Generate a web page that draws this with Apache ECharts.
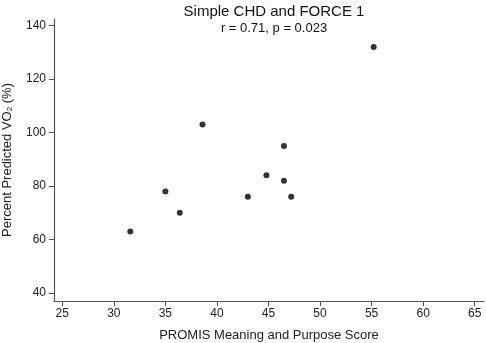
<!DOCTYPE html>
<html>
<head>
<meta charset="utf-8">
<script src="https://cdn.jsdelivr.net/npm/echarts@6/dist/echarts.min.js"></script>
<style>
  html, body { margin: 0; padding: 0; background: #fff; }
  #chart { width: 486px; height: 343px; }
</style>
</head>
<body>
<div id="chart"></div>
<script>
// PROMIS meaning & purpose score vs percent predicted VO2
const meaningScore = [31.6, 35.0, 36.4, 38.6, 43.0, 44.8, 46.5, 46.5, 47.2, 55.2];
const predictedVO2 = [63, 78, 70, 103, 76, 84, 95, 82, 76, 132];
const xTicks = [25, 30, 35, 40, 45, 50, 55, 60, 65];
const yTicks = [40, 60, 80, 100, 120, 140];

const points = meaningScore.map((x, i) => [x, predictedVO2[i]]);

const axisColor = '#555';
const textColor = '#222';
const font = 'Liberation Sans, Arial, sans-serif';

let myChart = echarts.init(document.getElementById('chart'));
myChart.setOption({
  animation: false,
  title: {
    text: 'Simple CHD and FORCE 1',
    subtext: 'r = 0.71, p = 0.023',
    left: 269,
    textAlign: 'center',
    top: -1,
    itemGap: 3,
    textStyle: { fontFamily: font, fontSize: 15, fontWeight: 'normal', color: '#111' },
    subtextStyle: { fontFamily: font, fontSize: 13, color: '#111' }
  },
  grid: { left: 54, right: 2, top: 19, bottom: 42, outerBoundsMode: 'none', containLabel: false },
  xAxis: {
    type: 'value',
    min: 24.2,
    max: 65.9,
    name: 'PROMIS Meaning and Purpose Score',
    nameLocation: 'middle',
    nameGap: 28,
    nameTextStyle: { fontFamily: font, fontSize: 13, color: textColor },
    splitLine: { show: false },
    axisLine: { lineStyle: { color: axisColor, width: 1.2 } },
    axisTick: { customValues: xTicks, length: 5, lineStyle: { color: axisColor } },
    axisLabel: { customValues: xTicks, fontFamily: font, fontSize: 12, color: textColor, margin: 7 }
  },
  yAxis: {
    type: 'value',
    min: 37,
    max: 142.5,
    name: '{a|Percent Predicted VO}{s|2}{a| (%)}',
    nameLocation: 'middle',
    nameRotate: 90,
    nameGap: 40,
    nameTextStyle: {
      rich: {
        a: { fontFamily: font, fontSize: 13, color: textColor },
        s: { fontFamily: font, fontSize: 8, color: textColor, verticalAlign: 'bottom', padding: [5, 0, 0, 0] }
      }
    },
    splitLine: { show: false },
    axisLine: { show: true, lineStyle: { color: axisColor, width: 1.2 } },
    axisTick: { show: true, customValues: yTicks, length: 5, lineStyle: { color: axisColor } },
    axisLabel: { customValues: yTicks, fontFamily: font, fontSize: 12, color: textColor, margin: 8 }
  },
  series: [{
    type: 'scatter',
    data: points,
    symbolSize: 6,
    itemStyle: { color: '#000' }
  }]
});
</script>
</body>
</html>
